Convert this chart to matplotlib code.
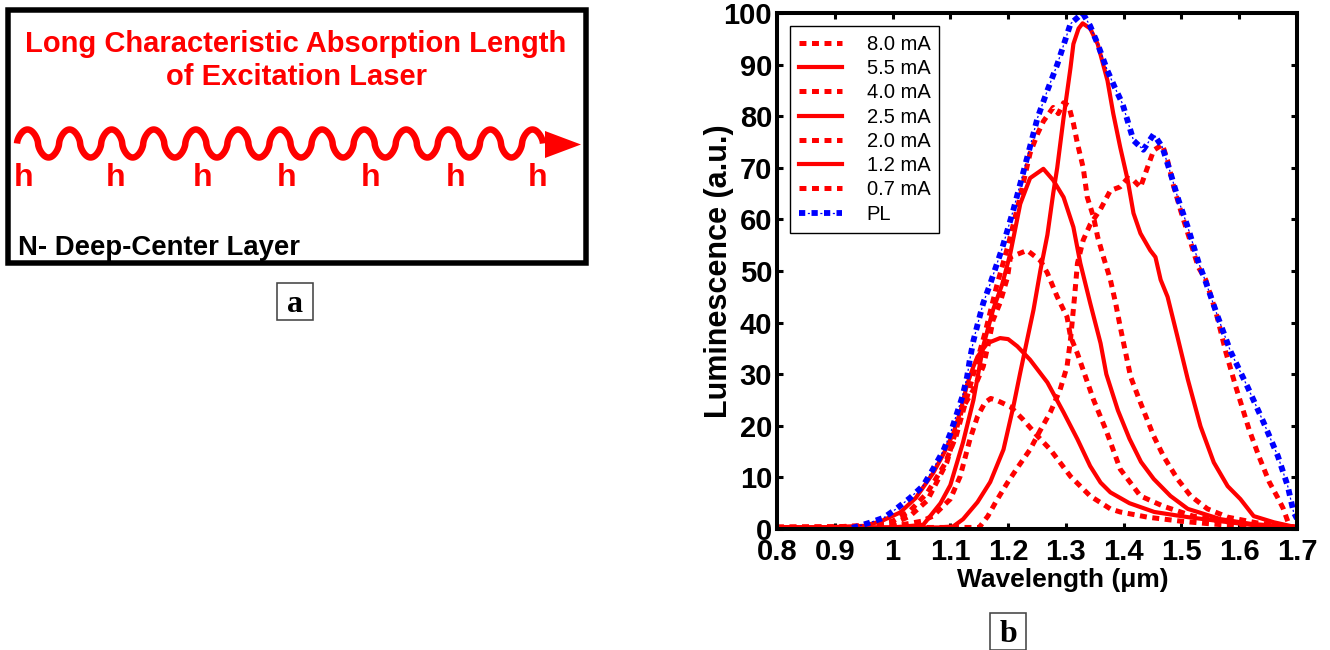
import numpy as np
import matplotlib
matplotlib.use("Agg")
import matplotlib.pyplot as plt
from matplotlib.patches import Rectangle, Polygon
from matplotlib.legend_handler import HandlerTuple

plt.rcParams['font.family'] = ['Liberation Sans', 'DejaVu Sans']
plt.rcParams['lines.scale_dashes'] = False

# ---------------- spectra (wavelength in um, luminescence in a.u.) ----------------
wl_pl = [0.93, 0.96, 0.985, 1.005, 1.03, 1.053, 1.07, 1.088, 1.10, 1.112, 1.121, 1.129,
         1.134, 1.14, 1.148, 1.157, 1.169, 1.19, 1.209, 1.226, 1.251, 1.268, 1.285, 1.308,
         1.329, 1.342, 1.355, 1.372, 1.385, 1.398, 1.417, 1.434, 1.452, 1.467, 1.481, 1.495,
         1.511, 1.53, 1.542, 1.563, 1.585, 1.615, 1.642, 1.667, 1.684, 1.694, 1.70]
lum_pl = [0.2, 1.2, 2.2, 3.8, 6.0, 8.4, 11.6, 15.2, 18.5, 22.6, 25.7, 29.5,
          33.0, 36.5, 40.0, 43.8, 47.5, 54.5, 61.8, 69.0, 79.7, 85.0, 90.0, 97.9,
          100.0, 97.5, 94.0, 88.8, 85.5, 82.4, 75.3, 73.5, 76.5, 74.0, 69.0, 63.7,
          58.5, 51.5, 47.9, 41.1, 34.4, 27.4, 20.7, 14.1, 8.3, 3.3, 2.0]

wl_8mA = [0.8, 0.9, 1.0, 1.05, 1.07, 1.10, 1.117, 1.134, 1.147, 1.16, 1.17, 1.181, 1.204,
          1.226, 1.251, 1.273, 1.308, 1.342, 1.377, 1.394, 1.441, 1.5, 1.55, 1.6, 1.7]
lum_8mA = [0.4, 0.4, 0.5, 1.5, 2.5, 5.8, 10.2, 17.4, 21.8, 24.5, 25.3, 24.9, 23.7,
           21.2, 18.0, 15.4, 10.2, 6.4, 3.9, 3.3, 2.3, 1.5, 1.0, 0.6, 0.2]

wl_5p5mA = [0.8, 0.85, 0.9, 0.95, 0.98, 1.013, 1.04, 1.07, 1.088, 1.105, 1.118, 1.129,
            1.14, 1.147, 1.164, 1.186, 1.2, 1.216, 1.238, 1.268, 1.296, 1.32, 1.342, 1.36,
            1.377, 1.41, 1.453, 1.511, 1.568, 1.62, 1.66, 1.70]
lum_5p5mA = [0.4, 0.3, 0.4, 0.6, 1.5, 3.2, 6.0, 10.8, 14.5, 18.5, 23.0, 28.0,
             31.5, 33.4, 36.0, 37.0, 36.8, 35.4, 32.8, 28.4, 22.6, 17.4, 12.2, 9.0,
             7.1, 5.0, 3.3, 2.3, 1.5, 0.8, 0.5, 0.3]

wl_4mA = [0.8, 0.9, 1.0, 1.03, 1.06, 1.094, 1.12, 1.14, 1.157, 1.166, 1.174, 1.186, 1.199,
          1.204, 1.233, 1.256, 1.268, 1.285, 1.302, 1.308, 1.32, 1.348, 1.37, 1.394, 1.429,
          1.469, 1.52, 1.57, 1.62, 1.7]
lum_4mA = [0.3, 0.4, 1.0, 2.5, 5.5, 12.9, 23.2, 27.0, 31.5, 36.0, 40.5, 43.8, 48.8,
           52.7, 54.0, 52.0, 49.6, 45.0, 41.1, 37.3, 34.0, 25.0, 19.0, 11.6, 6.4,
           4.4, 2.5, 1.5, 0.8, 0.3]

wl_2p5mA = [0.8, 0.9, 1.0, 1.053, 1.083, 1.10, 1.122, 1.14, 1.157, 1.174, 1.19, 1.204,
            1.221, 1.238, 1.261, 1.278, 1.296, 1.313, 1.325, 1.342, 1.36, 1.37, 1.39,
            1.41, 1.43, 1.452, 1.481, 1.511, 1.568, 1.62, 1.70]
lum_2p5mA = [0.3, 0.3, 0.3, 0.8, 5.0, 8.5, 16.8, 25.0, 35.5, 42.5, 47.5, 53.5,
             63.0, 68.0, 69.8, 67.6, 64.3, 58.5, 51.5, 43.8, 36.0, 30.0, 23.0,
             17.5, 13.0, 9.7, 6.4, 3.9, 1.9, 1.0, 0.3]

wl_2mA = [0.8, 0.9, 0.95, 1.0, 1.03, 1.06, 1.09, 1.11, 1.125, 1.14, 1.16, 1.18, 1.20,
          1.22, 1.238, 1.251, 1.261, 1.278, 1.287, 1.296, 1.305, 1.313, 1.32, 1.33, 1.337,
          1.348, 1.355, 1.365, 1.377, 1.386, 1.394, 1.412, 1.429, 1.452, 1.469, 1.493,
          1.516, 1.545, 1.58, 1.63, 1.7]
lum_2mA = [0.3, 0.4, 0.5, 1.5, 3.5, 7.0, 12.5, 18.0, 24.0, 30.0, 38.0, 47.0, 55.0,
           64.0, 72.8, 76.6, 79.0, 81.7, 80.5, 82.6, 82.0, 78.6, 74.7, 70.0, 64.3,
           60.4, 56.6, 52.7, 48.3, 43.8, 39.2, 29.5, 24.5, 18.0, 14.1, 9.7,
           6.4, 3.9, 2.3, 1.2, 0.3]

wl_1p2mA = [0.8, 0.9, 1.0, 1.08, 1.105, 1.122, 1.147, 1.169, 1.192, 1.209, 1.221, 1.233,
            1.244, 1.256, 1.268, 1.278, 1.285, 1.296, 1.308, 1.313, 1.322, 1.329, 1.342,
            1.355, 1.372, 1.382, 1.394, 1.407, 1.417, 1.429, 1.446, 1.455, 1.464, 1.476,
            1.493, 1.511, 1.533, 1.556, 1.58, 1.602, 1.625, 1.66, 1.70]
lum_1p2mA = [0.3, 0.3, 0.3, 0.3, 0.5, 1.9, 5.2, 9.1, 15.4, 23.7, 30.3, 36.7,
             42.5, 50.2, 57.0, 65.0, 70.0, 79.7, 89.4, 94.0, 97.0, 98.0, 97.0,
             94.0, 86.9, 80.5, 74.0, 67.6, 61.2, 57.3, 54.0, 52.7, 48.3, 45.0,
             37.3, 29.0, 19.9, 12.9, 8.3, 5.8, 2.5, 1.3, 0.3]

wl_0p7mA = [0.8, 0.9, 1.0, 1.1, 1.15, 1.165, 1.18, 1.199, 1.22, 1.238, 1.255, 1.273, 1.29,
            1.302, 1.308, 1.315, 1.32, 1.33, 1.342, 1.36, 1.377, 1.394, 1.407, 1.417, 1.429,
            1.441, 1.452, 1.467, 1.476, 1.487, 1.50, 1.513, 1.529, 1.542, 1.56, 1.577,
            1.594, 1.617, 1.634, 1.652, 1.667, 1.676, 1.684, 1.69, 1.70]
lum_0p7mA = [0.3, 0.3, 0.3, 0.3, 0.3, 2.5, 5.5, 9.0, 12.5, 15.4, 19.0, 22.6, 27.0,
             31.5, 36.7, 45.0, 51.5, 56.0, 59.0, 62.0, 65.6, 66.3, 68.0, 67.6, 66.2,
             70.0, 73.4, 74.5, 71.4, 66.2, 61.2, 56.6, 50.8, 48.3, 41.9, 34.2,
             27.6, 19.3, 14.1, 9.1, 6.0, 4.0, 1.5, 0.5, 0.3]

legend_labels = ["8.0 mA", "5.5 mA", "4.0 mA", "2.5 mA", "2.0 mA", "1.2 mA", "0.7 mA", "PL"]
x_ticks = [0.8, 0.9, 1.0, 1.1, 1.2, 1.3, 1.4, 1.5, 1.6, 1.7]
x_tick_labels = ["0.8", "0.9", "1", "1.1", "1.2", "1.3", "1.4", "1.5", "1.6", "1.7"]
y_ticks = [0, 10, 20, 30, 40, 50, 60, 70, 80, 90, 100]

# ---------------- figure ----------------
W, H = 1330, 650
PX = 72.0 / 100.0          # points per pixel at dpi 100
fig = plt.figure(figsize=(W / 100, H / 100), dpi=100)

# schematic layer drawn in pixel coordinates
sk = fig.add_axes([0, 0, 1, 1])
sk.set_xlim(0, W)
sk.set_ylim(H, 0)
sk.axis('off')

sk.add_patch(Rectangle((8, 10), 578, 253, fill=False, edgecolor='black', lw=5.5 * PX))
sk.text(296, 52, "Long Characteristic Absorption Length", color='red', fontsize=21,
        fontweight='bold', ha='center', va='baseline')
sk.text(296, 85, "of Excitation Laser", color='red', fontsize=21,
        fontweight='bold', ha='center', va='baseline')
sk.text(18, 255, "N- Deep-Center Layer", color='black', fontsize=19.8,
        fontweight='bold', ha='left', va='baseline')

# photon wave with arrow head
n_half_waves = 25
wave_x = np.linspace(17, 543, 2000)
s = np.sin((wave_x - 17) / (543 - 17) * n_half_waves * np.pi)
wave_y = 143.5 - 14.0 * np.sign(s) * np.abs(s) ** 0.6
sk.plot(wave_x, wave_y, color='red', lw=6.5 * PX, solid_capstyle='butt')
sk.add_patch(Polygon([(545, 131), (545, 158), (581, 144.5)], closed=True,
                     facecolor='red', edgecolor='none'))
for hx in [24, 116, 203, 287, 371, 456, 538]:
    sk.text(hx, 186, "h", color='red', fontsize=23, fontweight='bold',
            ha='center', va='baseline')

# panel tags
for (bx, by, tag) in [(277, 283, "a"), (990, 613, "b")]:
    sk.add_patch(Rectangle((bx, by), 36, 37, fill=False, edgecolor='#444444', lw=1.6 * PX))
    sk.text(bx + 18, by + 29, tag, family=['Liberation Serif', 'DejaVu Serif'],
            fontsize=23, fontweight='bold', ha='center', va='baseline')

# ---------------- luminescence spectra ----------------
ax = fig.add_axes([777 / W, 1 - 529 / H, 520 / W, 516 / H])

dotted = dict(color='red', lw=3.6, linestyle=(0, (5, 4)), dash_capstyle='butt')
solid = dict(color='red', lw=3.0, solid_joinstyle='round')

h1, = ax.plot(wl_8mA, lum_8mA, **dotted)
h2, = ax.plot(wl_5p5mA, lum_5p5mA, **solid)
h3, = ax.plot(wl_4mA, lum_4mA, **dotted)
h4, = ax.plot(wl_2p5mA, lum_2p5mA, **solid)
h5, = ax.plot(wl_2mA, lum_2mA, **dotted)
h6, = ax.plot(wl_1p2mA, lum_1p2mA, **solid)
h7, = ax.plot(wl_0p7mA, lum_0p7mA, **dotted)
pl_thick, = ax.plot(wl_pl, lum_pl, color='blue', lw=4.2, linestyle=(0, (4.5, 4.5)),
                    dash_capstyle='butt')
pl_thin, = ax.plot(wl_pl, lum_pl, color='blue', lw=0.9, linestyle=(3.0, (1.5, 7.5)))

ax.set_xlim(0.8, 1.7)
ax.set_ylim(0, 100)
ax.set_xticks(x_ticks)
ax.set_xticklabels(x_tick_labels, fontsize=21, fontweight='bold')
ax.set_yticks(y_ticks)
ax.set_yticklabels([str(v) for v in y_ticks], fontsize=21, fontweight='bold')
ax.tick_params(axis='both', direction='in', length=4.5, width=2.2, top=True, right=True)
ax.tick_params(axis='x', pad=6.5)
ax.tick_params(axis='y', pad=3.5)
for sp in ax.spines.values():
    sp.set_linewidth(2.9)

ax.set_xlabel("Wavelength (\u03bcm)", fontsize=19, fontweight='bold')
ax.xaxis.set_label_coords(0.55, -0.076)
ax.set_ylabel("Luminescence (a.u.)", fontsize=22, fontweight='bold')
ax.yaxis.set_label_coords(-0.083, 0.5)

leg = ax.legend([h1, h2, h3, h4, h5, h6, h7, (pl_thick, pl_thin)], legend_labels,
                handler_map={tuple: HandlerTuple(ndivide=1)},
                loc='upper left', bbox_to_anchor=(0.025, 0.975), borderaxespad=0,
                fontsize=14.5, frameon=True, fancybox=False, framealpha=1,
                edgecolor='black', borderpad=0.45, labelspacing=0.26,
                handlelength=2.15, handletextpad=1.2)
leg.get_frame().set_linewidth(1.0)

fig.savefig("out.png", dpi=100)
